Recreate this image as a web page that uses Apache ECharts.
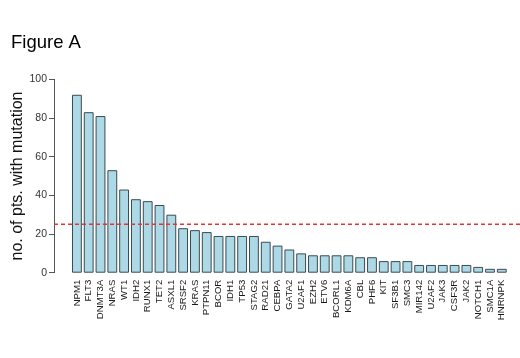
<!DOCTYPE html>
<html>
<head>
<meta charset="utf-8">
<script src="https://cdn.jsdelivr.net/npm/echarts@6/dist/echarts.min.js"></script>
<style>
  html, body { margin: 0; padding: 0; background: #fff; }
  #chart { width: 520px; height: 358px; }
</style>
</head>
<body>
<div id="chart"></div>
<script>
// genes, ordered by count
const genes = ['NPM1', 'FLT3', 'DNMT3A', 'NRAS', 'WT1', 'IDH2', 'RUNX1', 'TET2', 'ASXL1', 'SRSF2',
  'KRAS', 'PTPN11', 'BCOR', 'IDH1', 'TP53', 'STAG2', 'RAD21', 'CEBPA', 'GATA2', 'U2AF1',
  'EZH2', 'ETV6', 'BCORL1', 'KDM6A', 'CBL', 'PHF6', 'KIT', 'SF3B1', 'SMC3', 'MIR142',
  'U2AF2', 'JAK3', 'CSF3R', 'JAK2', 'NOTCH1', 'SMC1A', 'HNRNPK']
const counts = [92, 83, 81, 53, 43, 38, 37, 35, 30, 23,
  22, 21, 19, 19, 19, 19, 16, 14, 12, 10,
  9, 9, 9, 9, 8, 8, 6, 6, 6, 4,
  4, 4, 4, 4, 3, 2, 2]
const yTicks = [0, 20, 40, 60, 80, 100]
const cutoff = 25

const font = 'Arial, "Liberation Sans", sans-serif'
const chart = echarts.init(document.getElementById('chart'), null, { renderer: 'canvas' })

chart.setOption({
  animation: false,
  title: {
    text: 'Figure A',
    left: 6,
    top: 28,
    textStyle: { fontFamily: font, fontSize: 18.5, fontWeight: 'normal', color: '#000' }
  },
  grid: [
    { left: 71, right: 12.3, top: 79.3, bottom: 85.3, outerBoundsMode: 'none' },
    // wide grid so the cutoff line runs from the axis to the edge
    { left: 54, right: 0, top: 79.3, bottom: 85.3, outerBoundsMode: 'none' }
  ],
  xAxis: [
    {
      type: 'category',
      gridIndex: 0,
      data: genes,
      axisLine: { show: false },
      axisTick: { show: false },
      axisLabel: {
        interval: 0,
        rotate: 90,
        margin: 7,
        fontFamily: font,
        fontSize: 9.6,
        color: '#1a1a1a'
      }
    },
    { type: 'value', gridIndex: 1, min: 0, max: 1, show: false }
  ],
  yAxis: [
    {
      type: 'value',
      gridIndex: 0,
      min: yTicks[0],
      max: yTicks[yTicks.length - 1],
      interval: 20,
      offset: 17,
      name: 'no. of pts. with mutation',
      nameLocation: 'middle',
      nameGap: 28,
      nameMoveOverlap: false,
      nameTextStyle: { fontFamily: font, fontSize: 16, color: '#111' },
      axisLine: { show: true, lineStyle: { color: '#555', width: 1 } },
      axisTick: { show: true, length: 5, lineStyle: { color: '#555' } },
      axisLabel: { fontFamily: font, fontSize: 10.5, color: '#333', margin: 7 },
      splitLine: { show: false }
    },
    { type: 'value', gridIndex: 1, min: 0, max: 100, show: false }
  ],
  series: [
    {
      type: 'bar',
      xAxisIndex: 0,
      yAxisIndex: 0,
      data: counts,
      barCategoryGap: '16.7%',
      itemStyle: { color: '#ADD8E6', borderColor: '#3a4b52', borderWidth: 1 }
    },
    {
      type: 'line',
      xAxisIndex: 1,
      yAxisIndex: 1,
      data: [[0, cutoff], [1, cutoff]],
      symbol: 'none',
      silent: true,
      lineStyle: { color: '#e0363a', width: 1.5, type: [4, 3] }
    }
  ]
})
window.addEventListener('resize', () => {
  chart.resize()
})
</script>
</body>
</html>
